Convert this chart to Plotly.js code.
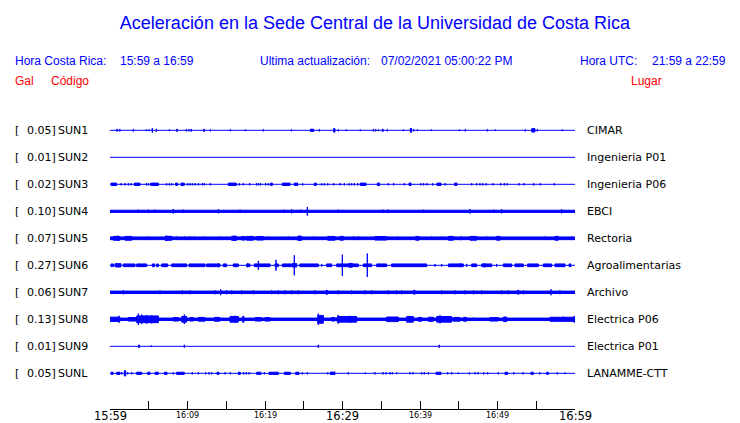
<!DOCTYPE html>
<html><head><meta charset="utf-8">
<script src="https://cdn.plot.ly/plotly-3.0.1.min.js"></script>
<style>body{margin:0;background:#fff}</style>
</head><body><div id="chart" style="width:740px;height:423px"></div>
<script>
// ---------------- DATA ----------------
const stationCodes = ["SUN1","SUN2","SUN3","SUN4","SUN5","SUN6","SUN7","SUN8","SUN9","SUNL"];
const fullScaleGal = ["0.05","0.01","0.02","0.10","0.07","0.27","0.06","0.13","0.01","0.05"];
const places = ["CIMAR","Ingenieria P01","Ingenieria P06","EBCI","Rectoria","Agroalimentarias","Archivo","Electrica P06","Electrica P01","LANAMME-CTT"];
// background noise level, % of full scale
const noiseLevel = [0,0,0,8,10,0,9,9,0,0];
// events: [start minute, end minute, peak amplitude % of full scale]
const sun1Events = [[0.86,0.95,7],[1.25,1.3,7],[2.97,3.05,7],[4.69,4.69,6],[5.03,5.03,6],[5.46,5.46,17],[5.98,5.98,11],[7.66,7.66,6],[8.6,8.7,8],[9.85,9.85,8],[10.19,10.19,8],[10.45,10.5,8],[12.09,12.2,8],[12.95,12.95,8],[15.53,15.53,7],[17.46,17.46,6],[19.78,19.78,8],[23.4,23.4,7],[25.89,26.3,8],[25.95,25.95,10],[27.01,27.01,8],[28.86,29.03,13],[28.95,28.95,15],[29.46,29.46,8],[30.5,30.5,6],[32.3,32.3,6],[33.98,33.98,8],[34.28,34.28,8],[34.62,34.62,6],[35.14,35.25,8],[35.78,35.78,8],[37.85,37.85,6],[38.75,38.88,13],[38.85,38.85,17],[39.18,39.18,8],[39.66,39.66,6],[41.46,41.46,6],[45.08,45.08,6],[45.85,45.85,8],[48.69,48.69,8],[49.72,49.72,6],[53.59,53.59,8],[54.41,54.84,12],[54.62,54.62,15],[55.14,55.14,8],[58.37,58.37,6]];
const sun2Events = [];
const sun3Events = [[0.13,0.86,9],[1.42,1.42,8],[1.94,1.94,8],[2.37,2.37,8],[2.71,2.71,8],[3.14,3.87,9],[4.69,4.69,8],[4.95,4.95,8],[5.25,6.24,9],[7.31,7.31,8],[7.66,7.66,8],[7.96,7.96,8],[8.47,8.73,9],[9.16,9.59,9],[10.02,10.02,8],[10.32,10.32,8],[10.62,10.62,8],[10.97,10.97,8],[11.4,11.4,8],[11.91,11.91,8],[12.17,12.17,8],[12.95,12.95,8],[15.27,16.3,9],[16.69,16.69,8],[17.2,17.2,8],[18.02,18.02,8],[18.92,18.92,8],[19.18,19.18,8],[19.44,19.44,8],[20.09,20.09,8],[20.43,20.43,8],[20.73,20.95,9],[22.24,23.23,9],[23.78,24.22,9],[24.86,24.86,8],[26.37,26.62,9],[27.31,27.31,8],[27.66,27.66,8],[28.09,28.09,8],[28.86,28.86,8],[29.68,29.68,8],[30.24,30.24,8],[30.84,30.84,8],[31.18,31.18,8],[31.53,31.53,8],[31.96,31.96,8],[32.3,33.03,9],[34.49,34.8,9],[35.91,35.91,8],[36.6,36.6,8],[37.98,37.98,8],[38.58,38.84,9],[40.13,40.13,8],[40.47,40.47,8],[40.9,40.9,8],[41.63,41.63,8],[42.19,42.71,9],[43.23,43.23,8],[44.47,44.77,9],[46.67,46.67,8],[47.31,47.31,8],[47.74,47.74,8],[48.09,48.09,8],[48.52,48.52,8],[49.42,49.42,8],[50.41,50.41,8],[50.88,50.88,8],[51.23,51.23,8],[52.77,52.77,8],[53.42,53.42,8],[54.67,54.67,9],[55.53,55.53,8],[57.33,57.33,8]];
const sun4Events = [[3.66,3.66,12],[4.95,4.95,13],[5.81,5.81,12],[8.17,8.17,17],[9.46,9.46,12],[13.98,13.98,15],[16.78,16.78,12],[22.49,22.49,12],[23.44,23.44,15],[24.6,24.6,12],[25.46,25.46,32],[29.46,29.46,12],[35.25,35.25,12],[35.91,35.91,13],[40.47,40.47,12],[46.45,46.45,17],[49.5,49.5,12],[50.54,50.54,15],[58.28,58.28,15]];
const sun5Events = [[0.43,1.29,14],[0.99,0.99,19],[1.94,2.8,14],[4.95,4.95,13],[7.1,7.96,15],[7.31,7.31,19],[8.6,8.6,13],[9.68,9.68,13],[10.32,10.32,13],[10.88,10.88,13],[12.17,12.17,13],[14.19,14.19,13],[15.7,16.34,15],[16.04,16.04,20],[16.99,17.42,13],[17.63,18.49,14],[18.92,19.78,13],[20.43,20.43,13],[23.01,23.01,13],[24.22,24.73,15],[24.47,24.47,20],[26.24,26.24,12],[28.09,29.03,14],[29.68,30.11,14],[31.4,31.4,13],[32.04,32.04,13],[34.19,35.7,13],[37.12,37.12,12],[39.44,39.87,14],[41.51,41.51,13],[42.8,42.8,13],[43.66,44.3,14],[45.29,45.29,14],[46.45,47.31,14],[48.6,48.6,13],[49.89,50.32,14],[56.13,56.13,13],[57.42,57.85,14],[59.57,59.57,13]];
const sun6Events = [[0.13,0.43,10],[0.65,1.42,12],[1.08,1.08,16],[1.72,3.23,10],[3.44,4.73,10],[5.46,5.76,10],[6.02,6.24,10],[6.67,7.44,10],[7.96,9.89,10],[10.19,12.26,10],[12.47,14.19,10],[14.0,14.0,14],[14.62,15.05,10],[15.91,16.56,10],[17.63,18.06,10],[17.75,17.75,14],[18.62,20.65,10],[19.14,19.14,33],[21.29,21.72,10],[21.42,21.42,40],[22.24,23.44,10],[23.53,24.09,13],[23.78,23.78,74],[24.5,26.88,10],[27.31,27.31,10],[27.96,28.6,10],[29.25,32.04,10],[29.98,29.98,79],[30.84,31.27,14],[32.69,33.76,10],[33.2,33.2,87],[34.41,35.7,10],[36.34,40.86,10],[41.94,41.94,10],[42.8,42.8,10],[43.66,45.59,10],[45.16,45.16,14],[46.02,46.02,10],[46.67,47.31,10],[47.96,49.25,10],[48.3,48.3,16],[49.89,49.89,10],[50.75,51.83,10],[52.26,53.33,10],[53.89,55.27,10],[55.91,56.99,10],[57.42,58.71,10],[59.23,59.48,10]];
const sun7Events = [[1.72,1.72,15],[6.45,6.45,14],[9.33,9.33,14],[10.32,10.32,14],[13.55,13.55,14],[14.28,14.28,22],[15.05,15.05,14],[15.7,15.7,14],[16.99,16.99,14],[18.49,18.49,14],[20.86,20.86,14],[21.72,21.72,14],[22.58,22.58,14],[23.44,23.44,14],[24.3,24.3,14],[26.45,26.45,14],[27.9,28.05,15],[29.46,29.46,14],[31.18,31.18,14],[32.9,32.9,14],[33.76,33.76,14],[35.91,35.91,14],[36.99,36.99,14],[37.63,37.63,14],[39.2,39.35,15],[42.8,42.8,14],[44.52,44.52,14],[45.81,45.81,14],[46.88,46.88,14],[47.96,47.96,14],[50.54,50.54,14],[51.4,51.4,14],[52.6,52.75,15],[53.33,53.33,14],[56.9,56.9,22],[58.06,58.06,14]];
const sun8Events = [[0,1.29,16],[1.16,1.16,26],[2.37,3.44,13],[3.44,6.24,25],[3.66,3.66,42],[4.09,4.09,35],[4.73,4.73,32],[5.38,5.38,30],[8.17,8.82,13],[9.25,9.89,21],[9.59,9.59,35],[10.32,10.75,13],[11.4,12.26,14],[13.46,14.19,14],[15.48,16.56,21],[16.13,16.13,26],[17.12,17.28,22],[18.71,19.55,13],[19.98,20.65,13],[26.8,27.53,29],[26.88,26.88,42],[28.6,29.03,13],[29.33,31.83,21],[29.46,29.46,32],[30.97,30.97,26],[35.7,37.2,17],[38.28,39.14,21],[39.78,40.22,14],[41.08,41.72,15],[42.15,44.09,21],[42.58,42.58,30],[44.3,45.16,14],[45.59,46.02,14],[46.88,46.88,13],[49.03,50.11,13],[50.75,51.18,17],[56.77,60,15],[58.5,58.5,20],[59.9,59.9,25]];
const sun9Events = [[3.7,3.8,10],[5.33,5.33,6],[9.59,9.59,11],[26.88,26.88,11],[42.49,42.49,11]];
const sunLEvents = [[0.13,0.39,8],[0.86,1.29,8],[1.51,1.51,8],[1.85,2.02,20],[2.28,2.28,8],[2.8,2.8,8],[3.44,4.09,8],[4.86,5.16,8],[5.81,6.24,8],[7.01,7.35,8],[8.17,8.17,8],[8.6,9.59,8],[10.62,10.62,8],[11.4,11.4,8],[12.34,12.34,8],[12.77,12.77,8],[13.12,13.12,8],[13.81,14.06,8],[14.84,14.84,8],[15.53,15.53,8],[16.56,16.82,8],[17.25,17.25,8],[17.59,17.59,8],[17.94,17.94,8],[18.92,19.48,8],[19.91,19.91,8],[20.52,21.72,8],[22.49,23.27,8],[23.96,24.39,8],[24.82,24.82,8],[25.46,25.46,8],[28.09,28.09,8],[28.43,29.03,9],[30.75,30.75,8],[32.95,32.95,6],[34.19,34.19,8],[35.23,35.23,8],[35.61,35.61,8],[36.13,36.13,8],[36.43,36.43,8],[36.99,36.99,6],[38.71,38.71,8],[39.1,39.1,8],[40.22,40.22,8],[40.56,40.56,8],[41.08,41.08,8],[42.06,42.71,8],[43.57,43.57,8],[44.09,44.09,8],[44.95,44.95,6],[46.37,46.37,8],[47.1,47.1,8],[47.48,47.48,8],[48.22,48.22,8],[48.73,48.73,8],[50.11,50.11,8],[50.97,51.31,8],[52.09,52.09,8],[53.29,53.29,8],[54.32,54.62,8],[55.44,55.44,8],[56.34,56.56,8],[57.72,57.72,8],[58.71,58.71,6]];
const stationEvents = [sun1Events,sun2Events,sun3Events,sun4Events,sun5Events,sun6Events,sun7Events,sun8Events,sun9Events,sunLEvents];
const tickMinutes = [0,5,10,15,20,25,30,35,40,45,50,55,60];
const tickLabels = ["15:59","","16:09","","16:19","","16:29","","16:39","","16:49","","16:59"];
const majorTickLabels = ["15:59","16:29","16:59"];
const titleText = "Aceleración en la Sede Central de la Universidad de Costa Rica";
const localTimeRange = "15:59 a 16:59";
const utcTimeRange = "21:59 a 22:59";
const lastUpdate = "07/02/2021 05:00:22 PM";

// ---------------- LAYOUT / DRAW ----------------
const W=740,H=423,L=110,R=165,T=115,B=14;
const pw=W-L-R, ph=H-T-B;
const rowPx=27, firstRowPx=130.3;
const yTop=(firstRowPx-T)/rowPx, yBot=yTop-ph/rowPx;
const BLUE='#0000ff', RED='#ff0000';
const px=x=>(x-L)/pw, py=y=>1-(y-T)/ph;

const traces=[];
stationCodes.forEach((code,i)=>{
  const c=-i;
  const xs=[],ys=[];
  const evs=[];
  if(noiseLevel[i]>0) evs.push([0,60,noiseLevel[i]]);
  stationEvents[i].forEach(e=>evs.push(e));
  evs.forEach(([a,b,amp])=>{
    const h=amp/100*0.5;
    xs.push(a,b,b,a,a,null);
    ys.push(c-h,c-h,c+h,c+h,c-h,null);
  });
  traces.push({type:'scatter',mode:'lines',x:[0,60],y:[c,c],line:{color:BLUE,width:1},hoverinfo:'skip',showlegend:false});
  if(xs.length) traces.push({type:'scatter',mode:'lines',x:xs,y:ys,fill:'toself',fillcolor:BLUE,line:{color:BLUE,width:1},hoverinfo:'skip',showlegend:false});
});

const ann=[];
function txt(text,xp,yp,anchor,color,size,family){
  ann.push({text:text,xref:'paper',yref:'paper',x:px(xp),y:py(yp),xanchor:anchor,yanchor:'middle',showarrow:false,
    font:{family:family,size:size,color:color},borderpad:0,borderwidth:0});
}
const SANS='Liberation Sans, Arial, sans-serif', DJ='DejaVu Sans, sans-serif';
txt('Hora Costa Rica:',15,61,'left',BLUE,12,SANS);
txt(localTimeRange,120,61,'left',BLUE,12,SANS);
txt('Ultima actualización:',260,61,'left',BLUE,12,SANS);
txt(lastUpdate,381,61,'left',BLUE,12,SANS);
txt('Hora UTC:',580,61,'left',BLUE,12,SANS);
txt(utcTimeRange,726,61,'right',BLUE,12,SANS);
txt('Gal',15,81,'left',RED,12,SANS);
txt('Código',51,81,'left',RED,12,SANS);
txt('Lugar',631,81,'left',RED,12,SANS);

stationCodes.forEach((code,i)=>{
  const yy=firstRowPx+rowPx*i;
  txt('[',15,yy,'left','#000',11,DJ);
  txt(fullScaleGal[i]+']',55.5,yy,'right','#000',11,DJ);
  txt(code,58,yy,'left','#000',11,DJ);
  txt(places[i],587,yy,'left','#000',11,DJ);
});
tickMinutes.forEach((m,k)=>{
  const lab=tickLabels[k];
  if(!lab) return;
  const major=majorTickLabels.includes(lab);
  ann.push({text:lab,xref:'x',yref:'paper',x:m,y:py(major?416:415),xanchor:'center',yanchor:'middle',showarrow:false,
    font:{family:DJ,size:major?11.5:8,color:'#000'},borderpad:0,borderwidth:0});
});

const layout={
  width:W,height:H,margin:{l:L,r:R,t:T,b:B},
  paper_bgcolor:'#fff',plot_bgcolor:'#fff',showlegend:false,
  title:{text:titleText,font:{family:SANS,size:18,color:BLUE},xref:'container',yref:'container',x:375/W,xanchor:'center',y:1-23/H,yanchor:'middle'},
  xaxis:{range:[0,60],tickvals:tickMinutes,ticktext:tickLabels,showticklabels:false,ticks:'inside',ticklen:8,tickwidth:1,tickcolor:'#000',
    showline:true,linecolor:'#000',linewidth:1,showgrid:false,zeroline:false,fixedrange:true},
  yaxis:{range:[yBot,yTop],visible:false,fixedrange:true},
  annotations:ann
};
Plotly.newPlot('chart',traces,layout,{staticPlot:true});
</script></body></html>
